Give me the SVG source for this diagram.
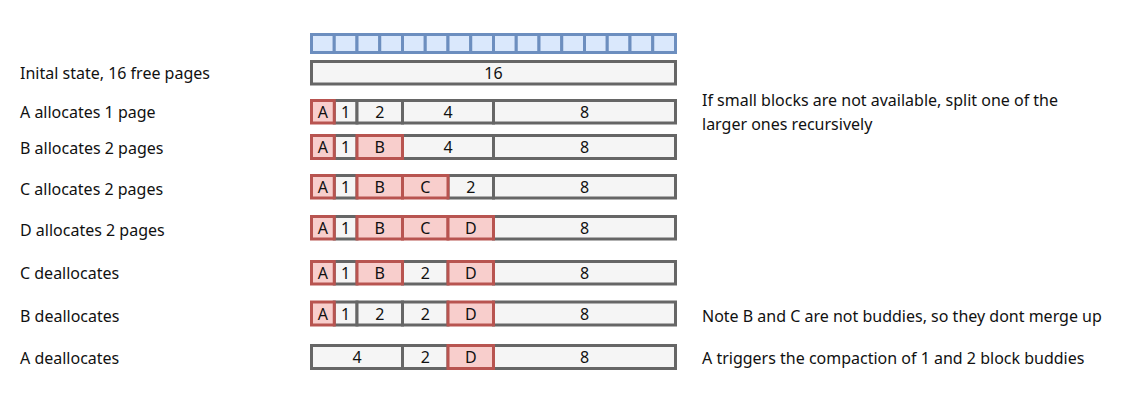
<svg xmlns="http://www.w3.org/2000/svg" width="1121" height="410" viewBox="0 0 1121 410">
<style>
text{font-family:"Noto Sans","Open Sans",sans-serif;fill:#111111}
.lbl{font-size:16px;dominant-baseline:central}
.c{font-size:16px;text-anchor:middle;dominant-baseline:central}
.pg{fill:#dae8fc;stroke:#6c8ebf;stroke-width:3}
.f{fill:#f5f5f5;stroke:#666666;stroke-width:3}
.u{fill:#f8cecc;stroke:#b85450;stroke-width:3}
</style>
<rect width="1121" height="410" fill="#ffffff"/>
<g id="pages">
<rect class="pg" x="311.5" y="34.5" width="22.75" height="18"/>
<rect class="pg" x="334.25" y="34.5" width="22.75" height="18"/>
<rect class="pg" x="357" y="34.5" width="22.75" height="18"/>
<rect class="pg" x="379.75" y="34.5" width="22.75" height="18"/>
<rect class="pg" x="402.5" y="34.5" width="22.75" height="18"/>
<rect class="pg" x="425.25" y="34.5" width="22.75" height="18"/>
<rect class="pg" x="448" y="34.5" width="22.75" height="18"/>
<rect class="pg" x="470.75" y="34.5" width="22.75" height="18"/>
<rect class="pg" x="493.5" y="34.5" width="22.75" height="18"/>
<rect class="pg" x="516.25" y="34.5" width="22.75" height="18"/>
<rect class="pg" x="539" y="34.5" width="22.75" height="18"/>
<rect class="pg" x="561.75" y="34.5" width="22.75" height="18"/>
<rect class="pg" x="584.5" y="34.5" width="22.75" height="18"/>
<rect class="pg" x="607.25" y="34.5" width="22.75" height="18"/>
<rect class="pg" x="630" y="34.5" width="22.75" height="18"/>
<rect class="pg" x="652.75" y="34.5" width="22.75" height="18"/>
</g>
<g id="row-initial">
<text class="lbl" x="20" y="73">Inital state, 16 free pages</text>
<rect class="f" x="311.5" y="61.5" width="364" height="22.5"/>
<text class="c" x="493.5" y="72.5">16</text>
</g>
<g id="row-a-alloc">
<text class="lbl" x="20" y="112">A allocates 1 page</text>
<rect class="f" x="334.25" y="100.5" width="22.75" height="22.5"/>
<rect class="f" x="357" y="100.5" width="45.5" height="22.5"/>
<rect class="f" x="402.5" y="100.5" width="91" height="22.5"/>
<rect class="f" x="493.5" y="100.5" width="182" height="22.5"/>
<rect class="u" x="311.5" y="100.5" width="22.75" height="22.5"/>
<text class="c" x="322.9" y="111.5">A</text>
<text class="c" x="345.6" y="111.5">1</text>
<text class="c" x="379.75" y="111.5">2</text>
<text class="c" x="448" y="111.5">4</text>
<text class="c" x="584.5" y="111.5">8</text>
</g>
<g id="row-b-alloc">
<text class="lbl" x="20" y="148">B allocates 2 pages</text>
<rect class="f" x="334.25" y="135.5" width="22.75" height="23"/>
<rect class="f" x="402.5" y="135.5" width="91" height="23"/>
<rect class="f" x="493.5" y="135.5" width="182" height="23"/>
<rect class="u" x="311.5" y="135.5" width="22.75" height="23"/>
<rect class="u" x="357" y="135.5" width="45.5" height="23"/>
<text class="c" x="322.9" y="147">A</text>
<text class="c" x="345.6" y="147">1</text>
<text class="c" x="379.75" y="147">B</text>
<text class="c" x="448" y="147">4</text>
<text class="c" x="584.5" y="147">8</text>
</g>
<g id="row-c-alloc">
<text class="lbl" x="20" y="189">C allocates 2 pages</text>
<rect class="f" x="334.25" y="175.5" width="22.75" height="22.5"/>
<rect class="f" x="448" y="175.5" width="45.5" height="22.5"/>
<rect class="f" x="493.5" y="175.5" width="182" height="22.5"/>
<rect class="u" x="311.5" y="175.5" width="22.75" height="22.5"/>
<rect class="u" x="357" y="175.5" width="45.5" height="22.5"/>
<rect class="u" x="402.5" y="175.5" width="45.5" height="22.5"/>
<text class="c" x="322.9" y="186.5">A</text>
<text class="c" x="345.6" y="186.5">1</text>
<text class="c" x="379.75" y="186.5">B</text>
<text class="c" x="425.25" y="186.5">C</text>
<text class="c" x="470.75" y="186.5">2</text>
<text class="c" x="584.5" y="186.5">8</text>
</g>
<g id="row-d-alloc">
<text class="lbl" x="20" y="230">D allocates 2 pages</text>
<rect class="f" x="334.25" y="216.5" width="22.75" height="22.5"/>
<rect class="f" x="493.5" y="216.5" width="182" height="22.5"/>
<rect class="u" x="311.5" y="216.5" width="22.75" height="22.5"/>
<rect class="u" x="357" y="216.5" width="45.5" height="22.5"/>
<rect class="u" x="402.5" y="216.5" width="45.5" height="22.5"/>
<rect class="u" x="448" y="216.5" width="45.5" height="22.5"/>
<text class="c" x="322.9" y="227.5">A</text>
<text class="c" x="345.6" y="227.5">1</text>
<text class="c" x="379.75" y="227.5">B</text>
<text class="c" x="425.25" y="227.5">C</text>
<text class="c" x="470.75" y="227.5">D</text>
<text class="c" x="584.5" y="227.5">8</text>
</g>
<g id="row-c-dealloc">
<text class="lbl" x="20" y="273">C deallocates</text>
<rect class="f" x="334.25" y="261.5" width="22.75" height="22.5"/>
<rect class="f" x="402.5" y="261.5" width="45.5" height="22.5"/>
<rect class="f" x="493.5" y="261.5" width="182" height="22.5"/>
<rect class="u" x="311.5" y="261.5" width="22.75" height="22.5"/>
<rect class="u" x="357" y="261.5" width="45.5" height="22.5"/>
<rect class="u" x="448" y="261.5" width="45.5" height="22.5"/>
<text class="c" x="322.9" y="272.5">A</text>
<text class="c" x="345.6" y="272.5">1</text>
<text class="c" x="379.75" y="272.5">B</text>
<text class="c" x="425.25" y="272.5">2</text>
<text class="c" x="470.75" y="272.5">D</text>
<text class="c" x="584.5" y="272.5">8</text>
</g>
<g id="row-b-dealloc">
<text class="lbl" x="20" y="316">B deallocates</text>
<rect class="f" x="334.25" y="302" width="22.75" height="23"/>
<rect class="f" x="357" y="302" width="45.5" height="23"/>
<rect class="f" x="402.5" y="302" width="45.5" height="23"/>
<rect class="f" x="493.5" y="302" width="182" height="23"/>
<rect class="u" x="311.5" y="302" width="22.75" height="23"/>
<rect class="u" x="448" y="302" width="45.5" height="23"/>
<text class="c" x="322.9" y="313.5">A</text>
<text class="c" x="345.6" y="313.5">1</text>
<text class="c" x="379.75" y="313.5">2</text>
<text class="c" x="425.25" y="313.5">2</text>
<text class="c" x="470.75" y="313.5">D</text>
<text class="c" x="584.5" y="313.5">8</text>
</g>
<g id="row-a-dealloc">
<text class="lbl" x="20" y="358">A deallocates</text>
<rect class="f" x="311.5" y="345.5" width="91" height="23"/>
<rect class="f" x="402.5" y="345.5" width="45.5" height="23"/>
<rect class="f" x="493.5" y="345.5" width="182" height="23"/>
<rect class="u" x="448" y="345.5" width="45.5" height="23"/>
<text class="c" x="357" y="357">4</text>
<text class="c" x="425.25" y="357">2</text>
<text class="c" x="470.75" y="357">D</text>
<text class="c" x="584.5" y="357">8</text>
</g>
<g id="notes">
<text class="lbl" x="702" y="100">If small blocks are not available, split one of the</text>
<text class="lbl" x="702" y="124">larger ones recursively</text>
<text class="lbl" x="702" y="316">Note B and C are not buddies, so they dont merge up</text>
<text class="lbl" x="702" y="358">A triggers the compaction of 1 and 2 block buddies</text>
</g>
<g id="connectors"></g>
</svg>
